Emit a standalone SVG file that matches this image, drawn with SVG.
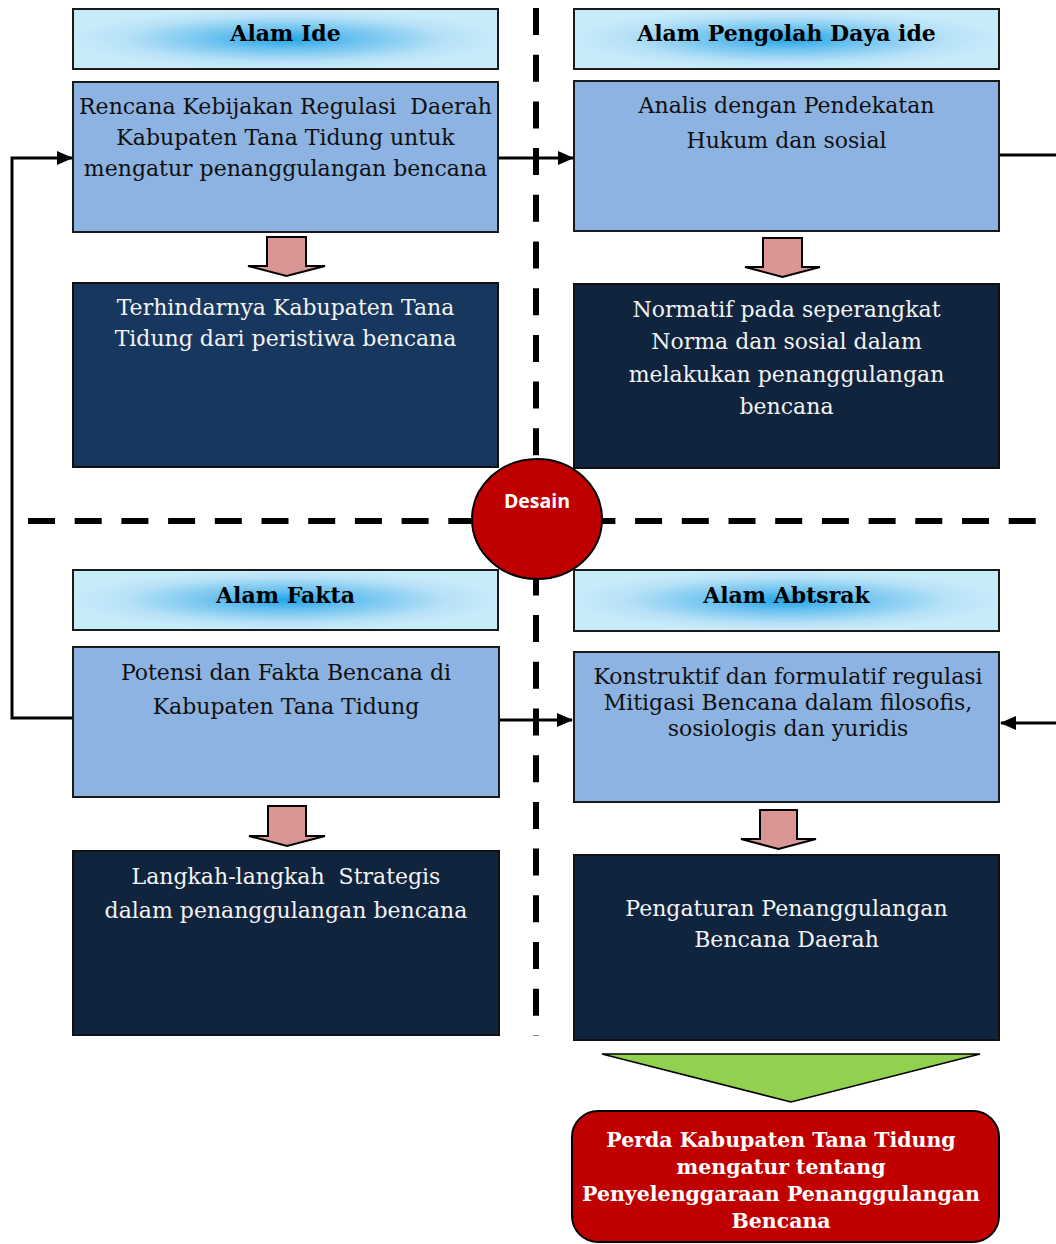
<svg xmlns="http://www.w3.org/2000/svg" width="1056" height="1244" viewBox="0 0 1056 1244">
<defs>
<radialGradient id="hg" cx="0.5" cy="0.5" r="0.5">
<stop offset="0" stop-color="#22A6E8"/>
<stop offset="0.35" stop-color="#6FC3F0"/>
<stop offset="0.75" stop-color="#B6E1F7"/>
<stop offset="1" stop-color="#C8EBFA"/>
</radialGradient>
<marker id="ahb" markerWidth="16" markerHeight="14" refX="15" refY="7" orient="auto" markerUnits="userSpaceOnUse" viewBox="0 0 16 14">
<path d="M0,0 L16,7 L0,14 z" fill="#000"/>
</marker>
</defs>
<style>
.hdr{fill:url(#hg);stroke:#1a1a1a;stroke-width:2}
.lb{fill:#8DB3E2;stroke:#1a1a1a;stroke-width:2}
.db1{fill:#17375E;stroke:#111;stroke-width:2}
.db2{fill:#10243E;stroke:#111;stroke-width:2}
.ht{font-family:"DejaVu Serif","Liberation Serif",serif;font-weight:bold;font-size:22px;fill:#000;text-anchor:middle}
.t{font-family:"DejaVu Serif","Liberation Serif",serif;font-size:22px;fill:#111;text-anchor:middle;white-space:pre}
.tw{font-family:"DejaVu Serif","Liberation Serif",serif;font-size:22px;fill:#F2F2F2;text-anchor:middle;white-space:pre}
.rt{font-family:"DejaVu Serif","Liberation Serif",serif;font-weight:bold;font-size:20.5px;fill:#fff;text-anchor:middle}
.ba{fill:#D99694;stroke:#000;stroke-width:2;stroke-linejoin:miter}
.cn{fill:none;stroke:#000;stroke-width:3}
.dash{fill:none;stroke:#000;stroke-width:6;stroke-dasharray:27 19.7}
</style>

<g id="dividers">
<line class="dash" x1="536" y1="8" x2="536" y2="1036"/>
<line class="dash" x1="28" y1="521" x2="1036" y2="521"/>
</g>

<g id="connectors">
<polyline class="cn" points="73,718 12,718 12,158 72,158" marker-end="url(#ahb)"/>
<line class="cn" x1="498" y1="158" x2="573" y2="158" marker-end="url(#ahb)"/>
<line class="cn" x1="1000" y1="155" x2="1056" y2="155"/>
<line class="cn" x1="498" y1="720" x2="572" y2="720" marker-end="url(#ahb)"/>
<line class="cn" x1="1056" y1="723" x2="1001" y2="723" marker-end="url(#ahb)"/>
</g>

<g id="alam-ide">
<rect class="hdr" x="73" y="9" width="425" height="60"/>
<text class="ht" x="285.5" y="41">Alam Ide</text>
</g>
<g id="rencana">
<rect class="lb" x="73" y="82" width="425" height="150"/>
<text class="t" x="285.5" y="114" xml:space="preserve">Rencana Kebijakan Regulasi  Daerah</text>
<text class="t" x="285.5" y="145">Kabupaten Tana Tidung untuk</text>
<text class="t" x="285.5" y="176">mengatur penanggulangan bencana</text>
</g>
<g id="arrow1"><path class="ba" d="M267,237 H306 V266 H325 L286.5,276 L248,266 H267 Z"/></g>
<g id="terhindar">
<rect class="db1" x="73" y="283" width="425" height="184"/>
<text class="tw" x="285.5" y="315">Terhindarnya Kabupaten Tana</text>
<text class="tw" x="285.5" y="346">Tidung dari peristiwa bencana</text>
</g>

<g id="alam-pengolah">
<rect class="hdr" x="574" y="9" width="425" height="60"/>
<text class="ht" x="786.5" y="41">Alam Pengolah Daya ide</text>
</g>
<g id="analis">
<rect class="lb" x="574" y="81" width="425" height="150"/>
<text class="t" x="786.5" y="113">Analis dengan Pendekatan</text>
<text class="t" x="786.5" y="148">Hukum dan sosial</text>
</g>
<g id="arrow2"><path class="ba" d="M763,238 H802 V267 H820 L782.5,277 L745,267 H763 Z"/></g>
<g id="normatif">
<rect class="db2" x="574" y="284" width="425" height="184"/>
<text class="tw" x="786.5" y="317">Normatif pada seperangkat</text>
<text class="tw" x="786.5" y="349">Norma dan sosial dalam</text>
<text class="tw" x="786.5" y="382">melakukan penanggulangan</text>
<text class="tw" x="786.5" y="414">bencana</text>
</g>

<g id="desain">
<ellipse cx="537" cy="519" rx="65" ry="60" fill="#C00000" stroke="#000" stroke-width="2"/>
<text x="537" y="508" font-family="'Open Sans','Liberation Sans',sans-serif" font-weight="bold" font-size="19.5" fill="#fff" text-anchor="middle">Desain</text>
</g>

<g id="alam-fakta">
<rect class="hdr" x="73" y="570" width="425" height="60"/>
<text class="ht" x="285.5" y="603">Alam Fakta</text>
</g>
<g id="potensi">
<rect class="lb" x="73" y="647" width="426" height="150"/>
<text class="t" x="286" y="680">Potensi dan Fakta Bencana di</text>
<text class="t" x="286" y="714">Kabupaten Tana Tidung</text>
</g>
<g id="arrow3"><path class="ba" d="M268,806 H306 V836 H325 L287,846 L249,836 H268 Z"/></g>
<g id="langkah">
<rect class="db2" x="73" y="851" width="426" height="184"/>
<text class="tw" x="286" y="884" xml:space="preserve">Langkah-langkah  Strategis</text>
<text class="tw" x="286" y="918">dalam penanggulangan bencana</text>
</g>

<g id="alam-abstrak">
<rect class="hdr" x="574" y="570" width="425" height="61"/>
<text class="ht" x="786.5" y="603">Alam Abtsrak</text>
</g>
<g id="konstruktif">
<rect class="lb" x="574" y="652" width="425" height="150"/>
<text class="t" x="788" y="684" font-size="20.8">Konstruktif dan formulatif regulasi</text>
<text class="t" x="788" y="710" font-size="20.8">Mitigasi Bencana dalam filosofis,</text>
<text class="t" x="788" y="736" font-size="20.8">sosiologis dan yuridis</text>
</g>
<g id="arrow4"><path class="ba" d="M760,810 H797 V839 H816 L778.5,849 L741,839 H760 Z"/></g>
<g id="pengaturan">
<rect class="db2" x="574" y="855" width="425" height="185"/>
<text class="tw" x="786.5" y="916">Pengaturan Penanggulangan</text>
<text class="tw" x="786.5" y="947">Bencana Daerah</text>
</g>

<g id="funnel"><path d="M602,1054 L980,1054 L791,1102 Z" fill="#92D050" stroke="#000" stroke-width="1.5"/></g>
<g id="perda">
<rect x="572" y="1111" width="427" height="131" rx="26" ry="26" fill="#C00000" stroke="#000" stroke-width="2"/>
<text class="rt" x="781" y="1147">Perda Kabupaten Tana Tidung</text>
<text class="rt" x="781" y="1174">mengatur tentang</text>
<text class="rt" x="781" y="1201">Penyelenggaraan Penanggulangan</text>
<text class="rt" x="781" y="1228">Bencana</text>
</g>
</svg>
